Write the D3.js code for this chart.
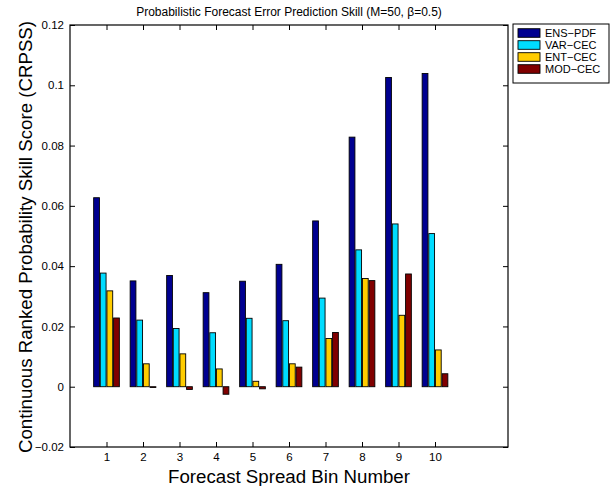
<!DOCTYPE html>
<html>
<head>
<meta charset="utf-8">
<script src="https://cdn.jsdelivr.net/npm/d3@7"></script>
<style>
  body { margin: 0; background: #fff; }
  svg { font-family: "Liberation Sans", Arial, sans-serif; }
</style>
</head>
<body>
<div id="chart"><svg class="diagram"></svg></div>
<script>

var bins = [1, 2, 3, 4, 5, 6, 7, 8, 9, 10];
var seriesNames = ["ENS\u2212PDF", "VAR\u2212CEC", "ENT\u2212CEC", "MOD\u2212CEC"];
var seriesColors = ["#000090", "#00dcff", "#ffcc00", "#800000"];

var ensPdf = [0.0627, 0.0351, 0.0369, 0.0312, 0.0350, 0.0406, 0.0550, 0.0828, 0.1026, 0.1039];
var varCec = [0.0377, 0.0221, 0.0193, 0.0179, 0.0227, 0.0219, 0.0294, 0.0454, 0.0540, 0.0508];
var entCec = [0.0318, 0.0076, 0.0109, 0.0059, 0.0018, 0.0076, 0.0160, 0.0359, 0.0237, 0.0122];
var modCec = [0.0228, -0.0002, -0.0009, -0.0025, -0.0007, 0.0065, 0.0180, 0.0352, 0.0374, 0.0043];

var yTicks = [-0.02, 0, 0.02, 0.04, 0.06, 0.08, 0.1, 0.12];

var series = [ensPdf, varCec, entCec, modCec];

var svg = d3.select("#chart").select("svg")
    .attr("width", 610).attr("height", 486);

svg.margin = {top: 25, right: 102, bottom: 39, left: 70};
var width = 610 - svg.margin.left - svg.margin.right,
    height = 486 - svg.margin.top - svg.margin.bottom;

var x = d3.scaleLinear().domain([0, 12]).range([0, width]);
var y = d3.scaleLinear().domain([-0.02, 0.12]).range([height, 0]);

var g = svg.append("g")
    .attr("transform", "translate(" + svg.margin.left + "," + svg.margin.top + ")");

// grouped bars, matlab style
var pitch = 0.182, barW = 0.158;
series.forEach(function(vals, si){
    g.selectAll(".bar" + si)
      .data(vals)
      .enter().append("rect")
      .attr("x", function(d, i){ return x(bins[i] + (si - 1.5) * pitch - barW / 2); })
      .attr("width", x(barW) - x(0))
      .attr("y", function(d){ return y(Math.max(d, 0)); })
      .attr("height", function(d){ return Math.max(Math.abs(y(d) - y(0)), 0.8); })
      .attr("fill", seriesColors[si])
      .attr("stroke", "#000")
      .attr("stroke-width", 0.9);
});

// axes, ticks pointing inward
var tickLen = 5;
var yL = g.append("g").call(d3.axisLeft(y).tickValues(yTicks).tickSize(-tickLen).tickPadding(6));
var yR = g.append("g").attr("transform", "translate(" + width + ",0)")
    .call(d3.axisRight(y).tickValues(yTicks).tickSize(-tickLen).tickFormat(""));
var xB = g.append("g").attr("transform", "translate(0," + height + ")")
    .call(d3.axisBottom(x).tickValues(bins).tickSize(-tickLen).tickPadding(6));
var xT = g.append("g")
    .call(d3.axisTop(x).tickValues(bins).tickSize(-tickLen).tickFormat(""));

[yL, yR, xB, xT].forEach(function(a){
    a.select(".domain").remove();
    a.selectAll("line").attr("stroke", "#000");
    a.selectAll("text").attr("fill", "#000").style("font-size", "11.5px")
      .style("font-family", "'Liberation Sans', Arial, sans-serif");
});
yL.selectAll("text").text(function(d){
    var s = d === 0 ? "0" : String(+d.toFixed(2));
    return s.replace("-", "\u2212");
});

g.append("rect")
    .attr("width", width).attr("height", height)
    .attr("fill", "none").attr("stroke", "#000").attr("stroke-width", 1.2);

// titles
svg.append("text")
    .attr("x", svg.margin.left + width / 2).attr("y", 16)
    .attr("text-anchor", "middle").style("font-size", "12px")
    .text("Probabilistic Forecast Error Prediction Skill (M=50, \u03b2=0.5)");

svg.append("text")
    .attr("x", svg.margin.left + width / 2).attr("y", 483)
    .attr("text-anchor", "middle").style("font-size", "18.7px")
    .text("Forecast Spread Bin Number");

svg.append("text")
    .attr("transform", "translate(31.5," + (svg.margin.top + height / 2 + 1) + ") rotate(-90)")
    .attr("text-anchor", "middle").style("font-size", "18.7px")
    .text("Continuous Ranked Probability Skill Score (CRPSS)");

// legend
var leg = svg.append("g").attr("transform", "translate(513,24)");
leg.append("rect").attr("width", 96).attr("height", 59)
    .attr("fill", "#fff").attr("stroke", "#000").attr("stroke-width", 1);
seriesNames.forEach(function(name, i){
    var row = leg.append("g").attr("transform", "translate(0," + (9 + i * 12) + ")");
    row.append("rect").attr("x", 5).attr("y", -4.3).attr("width", 22).attr("height", 8.6)
      .attr("fill", seriesColors[i]).attr("stroke", "#000").attr("stroke-width", 0.9);
    row.append("text").attr("x", 32).attr("y", 4).style("font-size", "11px").text(name);
});

</script>
</body>
</html>
